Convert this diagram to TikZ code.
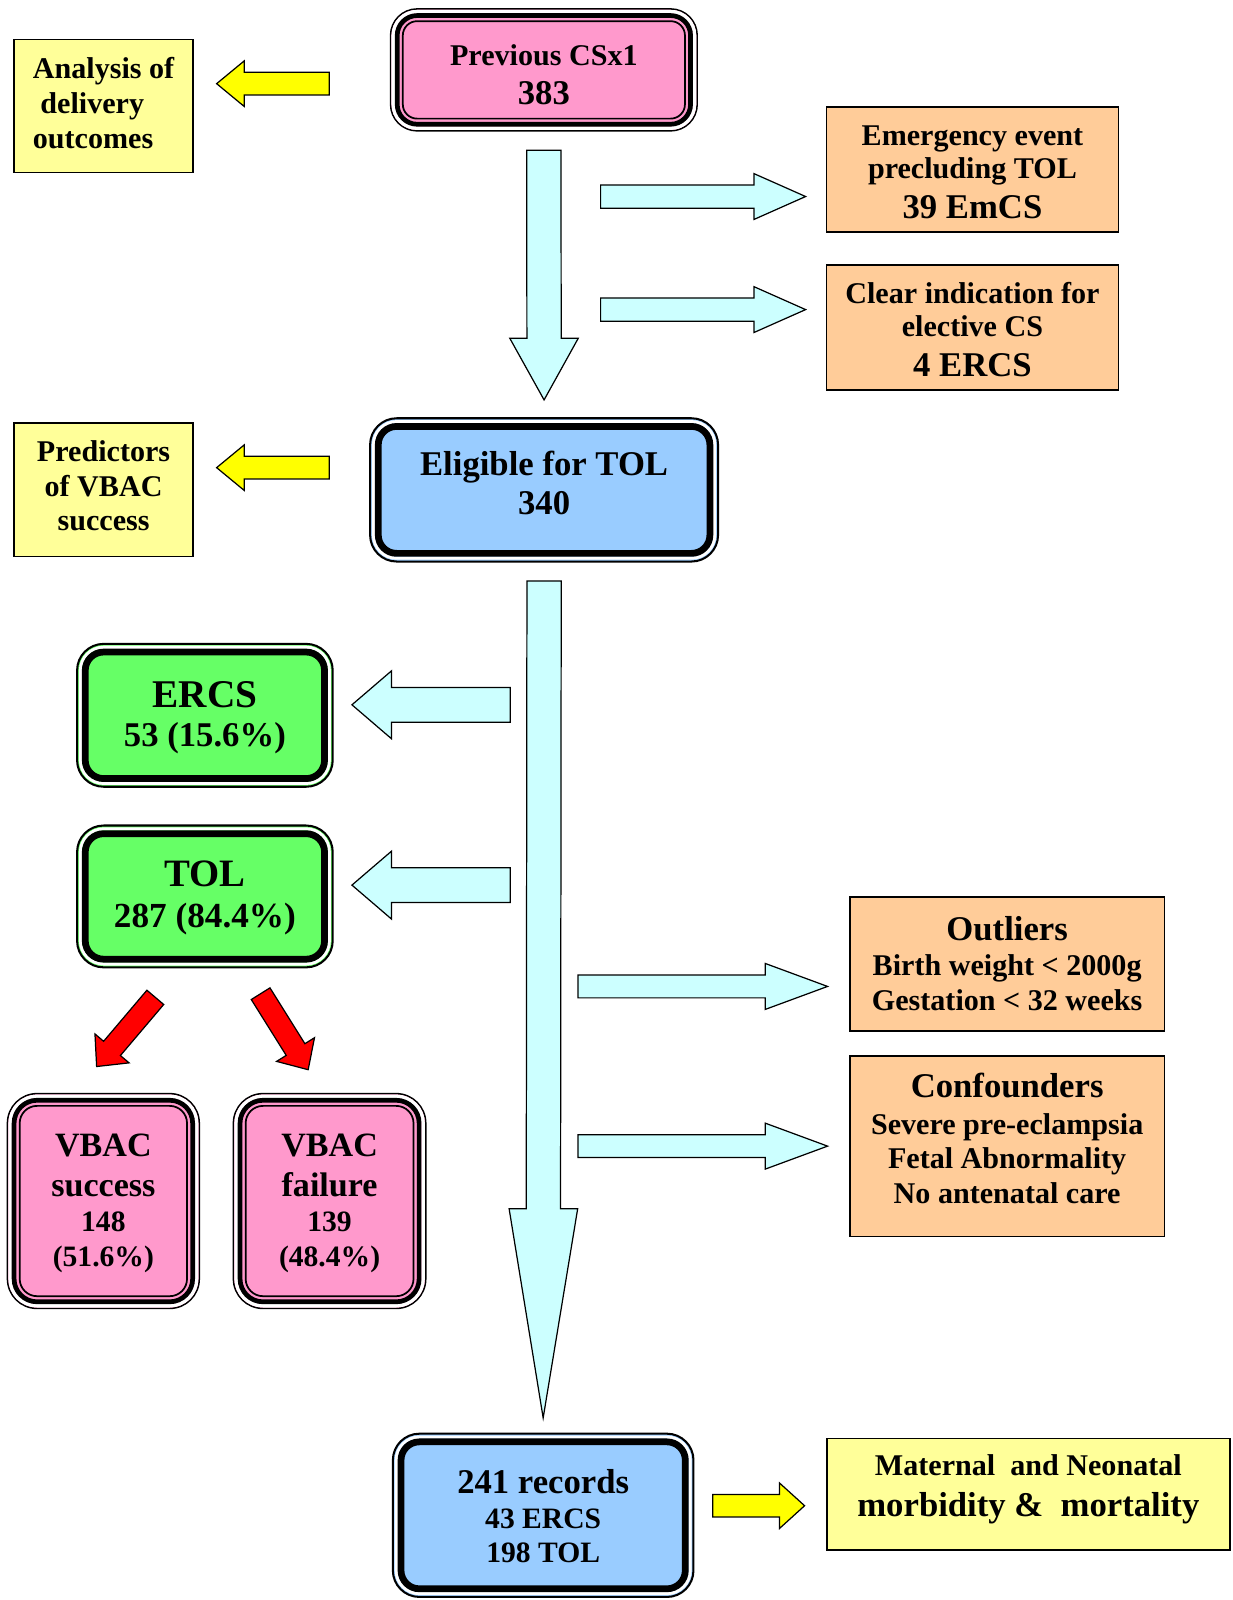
\documentclass[tikz,border=0pt]{standalone}
\usepackage{fontspec}
\setmainfont{Liberation Serif}
\usetikzlibrary{calc}
\definecolor{ybox}{HTML}{FFFF99}
\definecolor{yarr}{HTML}{FFFF00}
\definecolor{pinkf}{HTML}{FF99CC}
\definecolor{orangef}{HTML}{FFCC99}
\definecolor{bluef}{HTML}{99CCFF}
\definecolor{greenf}{HTML}{66FF66}
\definecolor{cyanf}{HTML}{CCFFFF}
\definecolor{redf}{HTML}{FF0000}
\newcommand\fnt[1]{\bfseries\fontsize{29.5}{#1}\selectfont}
\newcommand\lgf{\fontsize{34}{34}\selectfont}
\newcommand\smf{\fontsize{29}{34}\selectfont}
\newcommand\topst{\rule{0pt}{32pt}}
\newcommand\botst[1]{\rule[-#1pt]{0pt}{#1pt}}
% block arrow: #1 start, #2 tip, #3 half shaft, #4 half head, #5 head length, #6 fill
\newcommand\blockarrow[6]{%
  \path ($(#2)!#5!(#1)$) coordinate (bah);
  \draw[line width=1.2pt, fill=#6]
    ($(#1)!#3!90:(#2)$) -- ($(bah)!#3!90:(#2)$) -- ($(bah)!#4!90:(#2)$) -- (#2)
    -- ($(bah)!#4!-90:(#2)$) -- ($(bah)!#3!-90:(#2)$) -- ($(#1)!#3!-90:(#2)$) -- cycle;
}
% thin-thick-thin frame
\newcommand\pinkframe[2]{%
  \pgfmathsetlengthmacro\frRa{#2-2.6pt}%
  \pgfmathsetlengthmacro\frRb{#2-6.5pt}%
  \pgfmathsetlengthmacro\frRc{#2-12pt}%
  \draw[white, line width=3.4pt, rounded corners=\frRa] ([xshift=2.6pt,yshift=-2.6pt]#1.north west) rectangle ([xshift=-2.6pt,yshift=2.6pt]#1.south east);
  \draw[line width=4.6pt, rounded corners=\frRb] ([xshift=6.5pt,yshift=-6.5pt]#1.north west) rectangle ([xshift=-6.5pt,yshift=6.5pt]#1.south east);
  \draw[line width=1.7pt, rounded corners=\frRc] ([xshift=12pt,yshift=-12pt]#1.north west) rectangle ([xshift=-12pt,yshift=12pt]#1.south east);
}
% thin-thick frame
\newcommand\dblframe[2]{%
  \pgfmathsetlengthmacro\frRa{#2-3.3pt}%
  \pgfmathsetlengthmacro\frRb{#2-8pt}%
  \draw[white, line width=3pt, rounded corners=\frRa] ([xshift=3.3pt,yshift=-3.3pt]#1.north west) rectangle ([xshift=-3.3pt,yshift=3.3pt]#1.south east);
  \draw[line width=6.6pt, rounded corners=\frRb] ([xshift=8pt,yshift=-8pt]#1.north west) rectangle ([xshift=-8pt,yshift=8pt]#1.south east);
}
\begin{document}
\begin{tikzpicture}[x=1pt, y=-1pt,
  every node/.style={inner sep=0pt, outer sep=0pt, align=center},
  plainbox/.style={draw, line width=1.6pt},
  tripbox/.style={draw, line width=1.5pt, fill=pinkf, rounded corners=#1},
  dblbox/.style={draw, line width=2pt, rounded corners=26pt}]
\useasboundingbox[fill=white] (0,0) rectangle (1208,1568);

% ---------- boxes ----------
\node[plainbox, fill=ybox, minimum width=175.4pt, minimum height=130.4pt, font=\fnt{34.3}, align=left] (ana) at (101.5,104) {\topst Analysis of\\\ delivery\\outcomes\botst{18.2}};
\node[tripbox=26pt, minimum width=300.5pt, minimum height=119.5pt, font=\fnt{38}] (prev) at (533,68.5) {\topst Previous CSx1\\{\lgf 383}\botst{2}};
\node[plainbox, fill=orangef, minimum width=286.4pt, minimum height=122.4pt, font=\fnt{32.6}] (emerg) at (953,166) {\topst Emergency event\\precluding TOL\\[6.6pt]{\lgf 39 EmCS}\botst{8}};
\node[plainbox, fill=orangef, minimum width=286.4pt, minimum height=122.4pt, font=\fnt{32.5}] (clear) at (953,321) {\topst Clear indication for\\elective CS\\[6.5pt]{\lgf 4 ERCS}\botst{7.5}};
\node[dblbox, fill=bluef, minimum width=341pt, minimum height=140.4pt, font={\bfseries\fontsize{34}{39}\selectfont}] (elig) at (533.2,480.1) {\topst Eligible for TOL\\340\botst{22.2}};
\node[plainbox, fill=ybox, minimum width=175.4pt, minimum height=130.4pt, font=\fnt{34}] (pred) at (101.5,480) {\topst Predictors\\of VBAC\\success\botst{19.4}};
\node[dblbox, fill=greenf, minimum width=250.5pt, minimum height=140pt, font=\fnt{38.5}] (ercs) at (200.8,701) {\topst{\fontsize{38.5}{39}\selectfont ERCS}\\{\lgf 53 (15.6\%)}\botst{9.5}};
\node[dblbox, fill=greenf, minimum width=250.5pt, minimum height=139pt, font=\fnt{40.5}] (tol) at (200.8,878.5) {\topst{\fontsize{38}{39}\selectfont TOL}\\{\fontsize{34.5}{35}\selectfont 287 (84.4\%)}\botst{11.5}};
\node[tripbox=29pt, minimum width=188pt, minimum height=210.5pt, font=\fnt{34.3}] (succ) at (101.3,1177) {\topst{\fontsize{33.4}{34}\selectfont VBAC}\\[5pt]{\fontsize{33.4}{34}\selectfont success}\\{\smf 148}\\{\smf (51.6\%)}\botst{11.1}};
\node[tripbox=29pt, minimum width=188.5pt, minimum height=210.5pt, font=\fnt{34.3}] (fail) at (323,1177) {\topst{\fontsize{33.4}{34}\selectfont VBAC}\\[5pt]{\fontsize{33.4}{34}\selectfont failure}\\{\smf 139}\\{\smf (48.4\%)}\botst{11.1}};
\node[plainbox, fill=orangef, minimum width=308.4pt, minimum height=131.4pt, font=\fnt{34}] (outl) at (987,944.5) {\topst{\lgf Outliers}\\Birth weight < 2000g\\Gestation < 32 weeks\botst{9.4}};
\node[plainbox, fill=orangef, minimum width=308.4pt, minimum height=176.9pt, font=\fnt{34}] (conf) at (987,1123.2) {\topst{\lgf Confounders}\\[1.6pt]Severe pre-eclampsia\\Fetal Abnormality\\No antenatal care\botst{22.8}};
\node[dblbox, fill=bluef, minimum width=294.6pt, minimum height=160pt, font=\fnt{34.1}] (rec) at (532.3,1485) {\topst{\lgf 241 records}\\{\smf 43 ERCS}\\{\smf 198 TOL}\botst{6.8}};
\node[plainbox, fill=ybox, minimum width=395pt, minimum height=109.4pt, font=\fnt{40}] (mat) at (1007.8,1464.5) {\topst Maternal\ \ and Neonatal\\{\lgf morbidity \&\ \ mortality}\botst{29}};

\pinkframe{prev}{26pt}
\pinkframe{succ}{29pt}
\pinkframe{fail}{29pt}
\dblframe{elig}{26pt}
\dblframe{ercs}{26pt}
\dblframe{tol}{26pt}
\dblframe{rec}{26pt}

% ---------- arrow end points ----------
\coordinate (a1s) at (322.6,82);    \coordinate (a1e) at (212.3,82);
\coordinate (a2s) at (322.6,458.3); \coordinate (a2e) at (212.3,458.3);
\coordinate (c1s) at ([yshift=-19pt]prev.south);
\coordinate (c1e) at ([yshift=18pt]elig.north);
\coordinate (d1s) at (588.6,192.6); \coordinate (d1e) at (789.5,192.6);
\coordinate (d2s) at (588.6,303.4); \coordinate (d2e) at (789.5,303.4);
\coordinate (f1s) at ([yshift=-19pt]elig.south);
\coordinate (f1e) at ([yshift=15.5pt]rec.north);
\coordinate (g1s) at (500,690.7);   \coordinate (g1e) at (344.9,690.7);
\coordinate (g2s) at (500,867.4);   \coordinate (g2e) at (344.9,867.4);
\coordinate (i1s) at (566.5,966.7); \coordinate (i1e) at (811,966.7);
\coordinate (i2s) at (566.5,1123.2);\coordinate (i2e) at (811,1123.2);
\coordinate (k1s) at (152.2,977.4); \coordinate (k1e) at (94.7,1045.2);
\coordinate (k2s) at (255.4,973.8); \coordinate (k2e) at (302,1048.3);
\coordinate (l1s) at (698.5,1475.6);\coordinate (l1e) at (788.5,1475.6);

% ---------- block arrows ----------
\blockarrow{a1s}{a1e}{11.1pt}{22.3pt}{27pt}{yarr}
\blockarrow{a2s}{a2e}{11.1pt}{22.3pt}{27pt}{yarr}
\blockarrow{c1s}{c1e}{16.8pt}{33.6pt}{60.5pt}{cyanf}
\blockarrow{d1s}{d1e}{11.4pt}{22.5pt}{50.7pt}{cyanf}
\blockarrow{d2s}{d2e}{11.4pt}{22.5pt}{50.7pt}{cyanf}
\blockarrow{f1s}{f1e}{16.8pt}{33.6pt}{205pt}{cyanf}
\blockarrow{g1s}{g1e}{17pt}{33.3pt}{38.8pt}{cyanf}
\blockarrow{g2s}{g2e}{17pt}{33.3pt}{38.8pt}{cyanf}
\blockarrow{i1s}{i1e}{11.2pt}{22.5pt}{61pt}{cyanf}
\blockarrow{i2s}{i2e}{11.2pt}{22.5pt}{61pt}{cyanf}
\blockarrow{k1s}{k1e}{10.8pt}{21.9pt}{23.3pt}{redf}
\blockarrow{k2s}{k2e}{10.8pt}{21.9pt}{23.3pt}{redf}
\blockarrow{l1s}{l1e}{11pt}{22.2pt}{24.5pt}{yarr}
\end{tikzpicture}
\end{document}
